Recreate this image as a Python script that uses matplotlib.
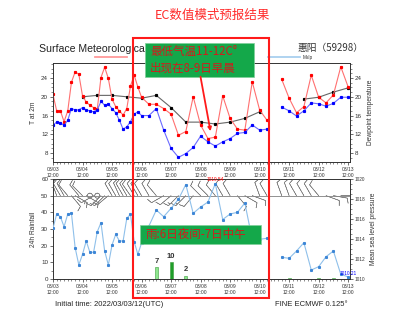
import numpy as np
import pandas as pd
import matplotlib
matplotlib.use("Agg")
import matplotlib.pyplot as plt
import matplotlib.dates as mdates
from matplotlib.patches import Rectangle, FancyArrowPatch
from matplotlib.lines import Line2D
from matplotlib.ticker import MultipleLocator

plt.rcParams['font.family'] = ['Liberation Sans', 'DejaVu Sans']
CJK = ['Noto Sans CJK SC', 'DejaVu Sans']

# --- time axis: 3-hourly to +69h, then 6-hourly to +240h ---
times3 = pd.date_range('2022-03-03 12:00', periods=24, freq='3h')
times6 = pd.date_range('2022-03-06 12:00', periods=29, freq='6h')
times = times3.append(times6)

t2m = [20.5, 17.0, 17.0, 14.7, 17.0, 23.1, 25.3, 24.8, 20.2, 18.9, 18.2, 17.7,
       17.4, 24.1, 26.3, 23.9, 19.5, 17.9, 17.0, 16.1, 17.5, 22.3, 24.6, 22.1,
       19.9, 18.4, 18.4, 17.5, 16.3, 11.8, 12.6, 20.0, 14.0, 11.1, 11.4, 20.2,
       15.4, 13.1, 12.9, 23.2, 17.2, 15.0, np.nan, 23.7, 19.7, 16.6, 17.9, 24.6,
       19.9, 18.7, 20.4, 26.4, 22.1]
dewpoint = [14.0, 14.6, 14.5, 13.9, 15.0, 17.5, 17.2, 17.2, 17.7, 17.2, 17.0, 16.8,
            17.2, 19.0, 18.2, 18.4, 17.5, 16.6, 15.0, 13.1, 13.6, 14.7, 16.3, 16.8,
            16.0, 16.0, 17.5, 12.9, 9.0, 7.1, 7.9, 9.2, 11.6, 10.4, 9.5, 10.4,
            11.1, 12.2, 12.4, 14.0, 12.9, 13.1, np.nan, 17.8, 17.0, 15.9, 17.0, 18.7,
            18.5, 18.0, 18.6, 19.9, 19.9]
mslp = [1015.07, 1016.5, 1016.23, 1015.23, 1016.5, 1016.57, 1013.13, 1011.4,
        1012.47, 1013.8, 1012.67, 1012.67, 1014.73, 1015.63, 1012.8, 1011.4,
        1013.4, 1014.47, 1013.8, 1013.8, 1016.07, 1016.47, 1013.73, 1012.47,
        1013.6, 1015.3, 1016.9, 1016.23, 1017.07, 1017.97, 1019.45, 1016.57,
        1017.2, 1017.7, 1019.54, 1015.95, 1016.5, 1016.67, 1017.6, 1013.95,
        1013.97, 1014.07, np.nan, 1012.17, 1012.07, 1012.8, 1013.63, 1010.9,
        1011.23, 1012.23, 1012.8, 1010.47, 1010.21]
# wind barbs: direction the staff points (deg clockwise from up) and speed (m/s)
wind_dir = [160, 160, 150, 150, 140, 320, 300, 140, 135, 300, 0, 60,
            0, 45, 45, 50, 150, 150, 155, 150, 150, 145, 150, 150,
            150, 150, 140, 60, 50, 45, 45, 40, 135, 135, 140, 150,
            150, 320, 300, 290, 160, 150, np.nan, 160, 160, 150, 150, 150,
            140, 290, 280, 270, 270]
wind_spd = [4, 4, 5, 5, 4, 5, 6, 4, 4, 5, 0.5, 4,
            0.5, 5, 6, 5, 4, 4, 4, 4, 5, 4, 4, 4,
            4, 5, 4, 5, 5, 6, 6, 5, 4, 4, 5, 4,
            4, 5, 5, 5, 4, 4, np.nan, 5, 5, 5, 4, 4,
            4, 5, 5, 6, 6]

times12 = pd.date_range('2022-03-04 12:00', periods=19, freq='12h')
tmean = [20.0, 20.3, 20.3, 20.0, 19.7, 20.3, 17.7, 14.6, 14.6, 14.2, 14.6, 15.4,
         16.8, np.nan, np.nan, 19.5, 19.9, 21.0, 21.9]

rain_times = pd.to_datetime(['2022-03-07 00:00', '2022-03-07 12:00', '2022-03-08 00:00',
                             '2022-03-11 12:00', '2022-03-12 12:00', '2022-03-13 00:00',
                             '2022-03-13 12:00'])
rain = [7, 10, 2, 0.4, 0.4, 0.4, 0.4]

x = mdates.date2num(times.to_pydatetime())
x12 = mdates.date2num(times12.to_pydatetime())
xr = mdates.date2num(rain_times.to_pydatetime())
x0 = x[0]
xlim = (x0, x0 + 241.5 / 24)

W, H = 402, 323
def fx(px):
    return px / W
def fy(py):
    return 1 - py / H

fig = plt.figure(figsize=(W / 100, H / 100), dpi=100)
ax1 = fig.add_axes([fx(53), fy(162), fx(350) - fx(53), fy(63) - fy(162)])
ax2 = fig.add_axes([fx(53), fy(279), fx(350) - fx(53), fy(179) - fy(279)])

def style_x(ax):
    ax.set_xlim(*xlim)
    ax.xaxis.set_major_locator(mdates.HourLocator(byhour=[12]))
    ax.xaxis.set_minor_locator(mdates.HourLocator(byhour=range(0, 24, 3)))
    ax.xaxis.set_major_formatter(mdates.DateFormatter('%m/%d\n%H:%M'))
    ax.tick_params(axis='x', which='major', labelsize=3.6, length=2.5, width=0.5,
                   pad=1, colors='#333333')
    ax.tick_params(axis='x', which='minor', length=1.3, width=0.4, colors='#333333')
    for s in ax.spines.values():
        s.set_linewidth(0.6)
        s.set_color('#333333')

# ---------- top panel ----------
style_x(ax1)
ax1.plot(x, t2m, color='#ff7070', lw=0.8, marker='s', ms=1.3, mfc='red', mec='red', zorder=3)
ax1.plot(x, dewpoint, color='#6a6aff', lw=0.8, marker='s', ms=1.3, mfc='blue', mec='blue', zorder=3)
ax1.plot(x12, tmean, color='#666666', lw=0.8, marker='s', ms=1.3, mfc='black', mec='black', zorder=2)
ax1.set_ylim(6.1, 27.2)
ax1.yaxis.set_major_locator(MultipleLocator(4))
ax1.yaxis.set_minor_locator(MultipleLocator(1))
ax1.tick_params(axis='y', which='major', labelsize=4.5, length=2.5, width=0.5, pad=1, colors='#333333')
ax1.tick_params(axis='y', which='minor', length=1.3, width=0.4, colors='#333333')
ax1.set_ylabel('T at 2m', fontsize=4.8, labelpad=3, color='#333333')
ax1r = ax1.twinx()
ax1r.set_ylim(ax1.get_ylim())
ax1r.yaxis.set_major_locator(MultipleLocator(4))
ax1r.yaxis.set_minor_locator(MultipleLocator(1))
ax1r.tick_params(axis='y', which='major', labelsize=4.5, length=2.5, width=0.5, pad=1, colors='#333333')
ax1r.tick_params(axis='y', which='minor', length=1.3, width=0.4, colors='#333333')
ax1r.set_ylabel('Dewpoint temperature', fontsize=4.8, labelpad=4, color='#333333')
for s in ax1r.spines.values():
    s.set_linewidth(0.6)
    s.set_color('#333333')

# ---------- bottom panel ----------
style_x(ax2)
ax2.set_ylim(0, 60)
ax2.yaxis.set_major_locator(MultipleLocator(10))
ax2.yaxis.set_minor_locator(MultipleLocator(5))
ax2.tick_params(axis='y', which='major', labelsize=4.5, length=2.5, width=0.5, pad=1, colors='#333333')
ax2.tick_params(axis='y', which='minor', length=1.3, width=0.4, colors='#333333')
ax2.set_ylabel('24h Rainfall', fontsize=4.8, labelpad=3, color='#333333')

bar_colors = ['#1f9e2a' if r >= 10 else '#8ee68e' for r in rain]
ax2.bar(xr, rain, width=2.5 / 24, color=bar_colors, edgecolor='#3a9a3a', lw=0.4, zorder=3)
for xi, r in zip(xr, rain):
    if r >= 1:
        ax2.text(xi, r + 1.5, str(r), ha='center', va='bottom', fontsize=5.5,
                 fontweight='bold', color='#333333')

ax2.axhline(50, color='#666666', lw=0.5, zorder=2)
d = np.radians(np.array(wind_dir, dtype=float))
spd = np.array(wind_spd, dtype=float)
u = spd * np.sin(d)
v = spd * np.cos(d)
ok = ~np.isnan(d)
ax2.barbs(x[ok], np.full(ok.sum(), 50.0), u[ok], v[ok], length=4.5, color='#858585',
          linewidth=0.4, barb_increments=dict(half=2, full=4, flag=20),
          sizes=dict(emptybarb=0.18, spacing=0.18, height=0.35), zorder=3)

ax2r = ax2.twinx()
ax2r.plot(x, mslp, color='#8fc0ea', lw=0.8, marker='s', ms=1.2, mfc='#3d86d6', mec='#3d86d6', zorder=3)
ax2r.set_ylim(1010, 1020)
ax2r.yaxis.set_major_locator(MultipleLocator(2))
ax2r.yaxis.set_minor_locator(MultipleLocator(0.5))
ax2r.tick_params(axis='y', which='major', labelsize=3.4, length=2.5, width=0.5, pad=0.5, colors='#333333')
ax2r.tick_params(axis='y', which='minor', length=1.3, width=0.4, colors='#333333')
ax2r.set_ylabel('Mean sea level pressure', fontsize=4.8, labelpad=4, color='#333333')
for s in ax2r.spines.values():
    s.set_linewidth(0.6)
    s.set_color('#333333')
p = np.array(mslp)
imax = np.nanargmax(p)
imin = np.nanargmin(p)
ax2r.text(x[imax], p[imax] + 0.15, f'{p[imax]:.2f}', color='red', fontsize=3.4, ha='center', va='bottom')
ax2r.text(x[imin], p[imin] + 0.1, f'{p[imin]:.2f}', color='blue', fontsize=3.4, ha='center', va='bottom')

# ---------- figure texts ----------
fig.text(fx(212), fy(15), 'EC数值模式预报结果', family=CJK, fontsize=9, color='#ff2a2a',
         ha='center', va='center')
fig.text(fx(39), fy(49), 'Surface Meteorologica', fontsize=7.6, color='#222222',
         ha='left', va='center')
fig.text(fx(297), fy(48), '惠阳（59298）', family=CJK, fontsize=7, color='#333333',
         ha='left', va='center')
fig.add_artist(Line2D([fx(95), fx(127)], [fy(57), fy(57)], color='#ff9a9a', lw=1.3))
fig.add_artist(Line2D([fx(268), fx(300)], [fy(57), fy(57)], color='#a9d0ef', lw=1.3))
fig.text(fx(303), fy(57), 'Mslp', fontsize=3.4, color='#333333', ha='left', va='center')
fig.text(fx(55), fy(304), 'Initial time: 2022/03/03/12(UTC)', fontsize=5.5, color='#222222',
         ha='left', va='center')
fig.text(fx(275), fy(304), 'FINE ECMWF 0.125°', fontsize=5.5, color='#222222',
         ha='left', va='center')

# annotations
fig.add_artist(Rectangle((fx(133), fy(298)), fx(269) - fx(133), fy(38) - fy(298),
                         transform=fig.transFigure, fill=False, edgecolor='#ff1a1a', lw=1.5, zorder=5))
fig.add_artist(Rectangle((fx(145), fy(77)), fx(254) - fx(145), fy(43) - fy(77),
                         transform=fig.transFigure, facecolor='#14a84a', edgecolor='#7fd09a',
                         lw=0.5, zorder=6))
fig.text(fx(150), fy(52), '最低气温11-12C°', family=CJK, fontsize=8.3, color='#d01c1c',
         ha='left', va='center', zorder=7)
fig.text(fx(150), fy(68), '出现在8-9日早晨', family=CJK, fontsize=8.3, color='#d01c1c',
         ha='left', va='center', zorder=7)
fig.add_artist(FancyArrowPatch((fx(200), fy(74)), (fx(211), fy(134)), transform=fig.transFigure,
                               arrowstyle='-|>', mutation_scale=5, color='#ff1a1a', lw=1.3, zorder=6))
fig.add_artist(Rectangle((fx(140), fy(244)), fx(261) - fx(140), fy(225) - fy(244),
                         transform=fig.transFigure, facecolor='#14a84a', edgecolor='#7fd09a',
                         lw=0.5, zorder=6))
fig.text(fx(145), fy(234.5), '雨:6日夜间-7日中午', family=CJK, fontsize=8.3, color='#d01c1c',
         ha='left', va='center', zorder=7)

fig.savefig('out.png', dpi=100)
